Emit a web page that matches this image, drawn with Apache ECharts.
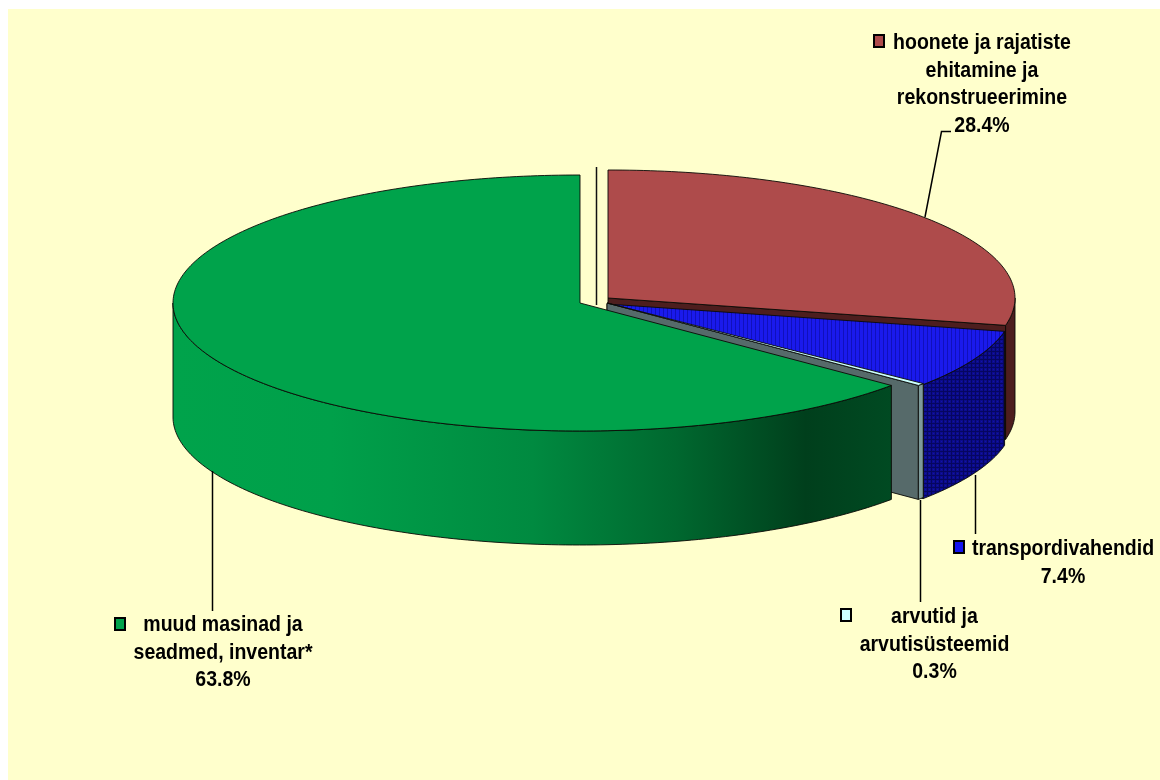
<!DOCTYPE html>
<html><head><meta charset="utf-8">
<style>html,body{margin:0;padding:0;background:#fff}#c{width:1160px;height:780px}</style>
<script src="https://cdn.jsdelivr.net/npm/echarts@6/dist/echarts.min.js"></script>
</head><body><div id="c"></div>
<script>
// ---- data ----
const categories = ['hoonete ja rajatiste\nehitamine ja\nrekonstrueerimine', 'transpordivahendid', 'arvutid ja\narvutisüsteemid', 'muud masinad ja\nseadmed, inventar*'];
const shares = [28.4, 7.4, 0.3, 63.8];

// ---- look ----
const topColors = ['#AE4B4B', null, '#CCFFFF', '#00A34B'];
const sideColors = ['#4D1E1E', null, '#7E9A9A', null];
const faceColors = ['#4D1E1E', '#0B0B8C', '#566A6A', '#004A22'];
const swatchColors = ['#AE4B4B', '#1414F0', '#CCFFFF', '#00A34B'];
const centers = [[608, 298], [607, 304], [607, 303], [580, 303]];
const RX = 407, RY = 128, DEPTH = 114;
const labelCenters = [[982, 43], [1063, 549], [934.5, 617], [223, 625]];
const swatches = [[873, 34], [953, 540], [840, 608], [114, 617]];
const leaders = [
  [[925, 217], [941.5, 131.5], [951, 131.5]],
  [[975.5, 475], [975.5, 534]],
  [[920.5, 500], [920.5, 602]],
  [[212.5, 471], [212.5, 611]]
];
const LINE_H = 27.5;
const TEXT_SCALE = 0.887;

function pat(w, h, draw) {
  const c = document.createElement('canvas'); c.width = w; c.height = h;
  draw(c.getContext('2d'));
  return { image: c, repeat: 'repeat' };
}
const blueTop = pat(4, 1, g => { g.fillStyle = '#1A1AEC'; g.fillRect(0, 0, 4, 1); g.fillStyle = '#1010BC'; g.fillRect(3, 0, 1, 1); });
const blueSide = pat(4, 4, g => { g.fillStyle = '#0C0C8C'; g.fillRect(0, 0, 4, 4); g.fillStyle = '#060660'; g.fillRect(0, 3, 4, 1); g.fillRect(3, 0, 1, 4); g.fillStyle='#1212A8'; g.fillRect(1,1,1,1); });
const greenSide = { type: 'linear', x: 173, y: 0, x2: 892, y2: 0, global: true, colorStops: [
  { offset: 0, color: '#00A34B' }, { offset: 0.22, color: '#00A04A' }, { offset: 0.5, color: '#008A40' },
  { offset: 0.7, color: '#00682F' }, { offset: 0.88, color: '#003F1C' }, { offset: 1, color: '#004A22' }] };

const total = shares.reduce((a, b) => a + b, 0);
const rad = d => d * Math.PI / 180;
const cum = [];
shares.reduce((s, v, i) => (cum[i] = s, s + v), 0);
const EDGE = { stroke: 'rgba(10,10,5,0.9)', lineWidth: 1 };

function renderItem(params, api) {
  const i = params.dataIndex;
  const a0 = cum[i] / total * 360, a1 = (cum[i] + api.value(0)) / total * 360;
  const [cx, cy] = centers[i];
  const P = (a, d = 0) => [cx + RX * Math.sin(rad(a)), cy - RY * Math.cos(rad(a)) + d];
  const arc = (s, e, d = 0) => { const n = Math.max(2, Math.ceil(Math.abs(e - s))); const r = []; for (let k = 0; k <= n; k++) r.push(P(s + (e - s) * k / n, d)); return r; };
  const ch = [];
  const z = i * 10;
  // cut face at the end angle
  if (a1 < 180) {
    ch.push({ type: 'polygon', z2: z, shape: { points: [[cx, cy], P(a1), P(a1, DEPTH), [cx, cy + DEPTH]] }, style: { fill: faceColors[i], ...EDGE } });
  }
  // outer wall
  const w0 = Math.max(a0, 90), w1 = Math.min(a1, 270);
  if (w1 > w0) {
    const wall = i === 1 ? blueSide : (i === 3 ? greenSide : sideColors[i]);
    ch.push({ type: 'polygon', z2: z + 1, shape: { points: arc(w0, w1).concat(arc(w1, w0, DEPTH)) }, style: { fill: wall, ...EDGE } });
  }
  // top
  ch.push({ type: 'polygon', z2: z + 2, shape: { points: [[cx, cy]].concat(arc(a0, a1)) }, style: { fill: i === 1 ? blueTop : topColors[i], ...EDGE } });
  // leader, swatch, label
  ch.push({ type: 'polyline', z2: 50, shape: { points: leaders[i] }, style: { fill: null, stroke: '#000', lineWidth: 1.5 } });
  ch.push({ type: 'rect', z2: 50, shape: { x: swatches[i][0] + 1, y: swatches[i][1] + 1, width: 10, height: 12 }, style: { fill: swatchColors[i], stroke: '#000', lineWidth: 2 } });
  const lines = categories[i].split('\n').concat(shares[i].toFixed(1) + '%');
  lines.forEach((t, k) => ch.push({ type: 'text', z2: 51,
    x: labelCenters[i][0], y: labelCenters[i][1] + k * LINE_H, scaleX: TEXT_SCALE,
    style: { x: 0, y: 0, text: t, align: 'center', verticalAlign: 'middle',
      font: 'bold 22px "Liberation Sans"', fill: '#000' } }));
  return { type: 'group', children: ch };
}

const chart = echarts.init(document.getElementById('c'), null, { renderer: 'canvas' });
chart.setOption({
  animation: false,
  backgroundColor: '#fff',
  graphic: [
    { type: 'rect', z: -10, shape: { x: 8, y: 9, width: 1152, height: 771 }, style: { fill: '#FFFFCC' } },
    { type: 'line', z: 5, shape: { x1: 596.5, y1: 167, x2: 596.5, y2: 305 }, style: { stroke: '#111', lineWidth: 1.5 } }
  ],
  series: [{ type: 'custom', coordinateSystem: 'none', renderItem, silent: true,
    data: shares.map((v, i) => ({ name: categories[i], value: [v, i] })) }]
});
</script></body></html>
